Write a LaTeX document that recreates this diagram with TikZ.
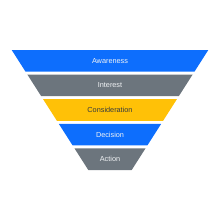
\documentclass[tikz,border=0pt]{standalone}
\usepackage{fontspec}
\setmainfont{Liberation Sans}
\usepackage{tikz}
\definecolor{fnblue}{HTML}{0D6EFD}
\definecolor{fngray}{HTML}{6C757D}
\definecolor{fnyellow}{HTML}{FFC107}
\definecolor{fnink}{HTML}{343A40}
\definecolor{fnlight}{HTML}{F1F3F5}

\begin{document}
\begin{tikzpicture}[
  x=1pt, y=-1pt,
  font=\fontsize{7.3}{9}\selectfont,
  stage/.style={inner sep=0pt, anchor=center},
  ]
  \useasboundingbox (0,0) rectangle (220,220);
  \foreach \name/\col/\txtcol/\txt [count=\i from 0] in
    {aware/fnblue/fnlight/Awareness, inter/fngray/fnlight/Interest,
     consid/fnyellow/fnink/Consideration, decis/fnblue/fnlight/Decision,
     act/fngray/fnlight/Action} {
    \pgfmathsetmacro\ytop{50+24.6*\i}
    \pgfmathsetmacro\ybot{\ytop+21.6}
    \pgfmathsetmacro\htop{98.3-15.7*\i}
    \pgfmathsetmacro\hbot{\htop-13.8}
    \fill[\col] (110-\htop,\ytop) -- (110+\htop,\ytop)
      -- (110+\hbot,\ybot) -- (110-\hbot,\ybot) -- cycle;
    \node[stage, text=\txtcol] (\name) at (110,\ytop+10.8) {\txt};
  }
\end{tikzpicture}
\end{document}
